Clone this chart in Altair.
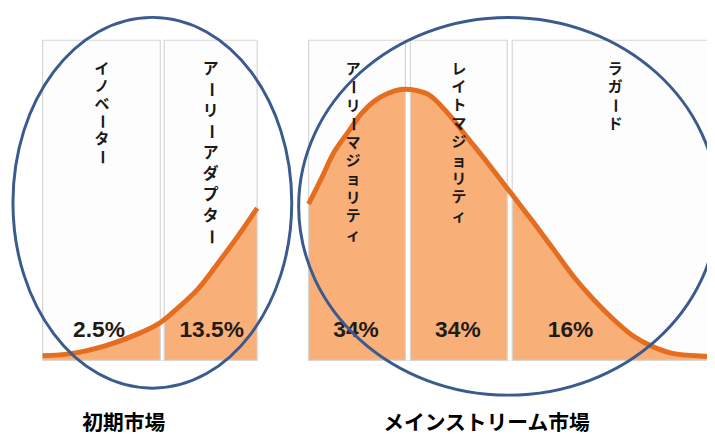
import altair as alt
import pandas as pd

# ---- data (x: position in sigma-like units, y: curve height, peak = 100)
left_x = [-3.70, -3.40, -3.06, -2.73, -2.53, -2.40, -2.13, -1.90, -1.73, -1.53]
left_y = [1.7, 2.6, 5.5, 9.9, 13.5, 17.2, 26.3, 37.2, 45.6, 56.2]
right_x = [-1.01, -0.88, -0.75, -0.61, -0.48, -0.35, -0.21, -0.08, 0.02, 0.20, 0.40, 0.60, 0.80, 1.00,
           1.07, 1.27, 1.47, 1.67, 1.87, 2.07, 2.27, 2.47, 2.67, 3.02, 3.14]
right_y = [57.7, 67.2, 77.0, 84.3, 90.9, 95.6, 98.5, 100.0, 100.0, 98.2, 91.2, 82.1, 73.0, 63.5,
           60.2, 50.7, 40.9, 31.0, 22.6, 15.3, 9.1, 5.1, 2.6, 1.5, 1.3]

panel_names = ["イノベーター", "アーリーアダプター", "アーリーマジョリティ", "レイトマジョリティ", "ラガード"]
panel_share = ["2.5%", "13.5%", "34%", "34%", "16%"]
panel_group = ["early", "early", "main", "main", "main"]
panel_x1 = [-3.70, -2.47, -1.01, 0.02, 1.05]
panel_x2 = [-2.51, -1.53, -0.03, 1.00, 3.14]
panel_top = 118.2

label_x = [-3.10, -2.00, -0.56, 0.51, 2.09]
label_step = [6.53, 7.76, 6.82, 6.79, 6.82]
label_size = [15, 16, 15, 15, 15]
label_top = 107.7
pct_x = [-3.13, -1.99, -0.53, 0.50, 1.64]
pct_y = 11.3

market_names = ["初期市場", "メインストリーム市場"]
market_x = [-2.88, 0.79]
market_y = -23.4

ellipse_x = [-2.59, 1.01]
ellipse_y = [58.2, 56.9]
ellipse_path = ["M -0.752 0 A 0.752 1 0 1 1 0.752 0 A 0.752 1 0 1 1 -0.752 0 Z",
                "M -1 0 A 1 0.901 0 1 1 1 0 A 1 0.901 0 1 1 -1 0 Z"]
ellipse_size = [140625, 179776]

# ---- tables
curve = pd.DataFrame({
    "x": left_x + right_x,
    "y": left_y + right_y,
    "group": ["early"] * len(left_x) + ["main"] * len(right_x),
})
panels = pd.DataFrame({"x1": panel_x1, "x2": panel_x2, "top": panel_top, "base": 0.0})
gaps = pd.DataFrame([
    {"x1": panel_x2[i], "x2": panel_x1[i + 1], "top": panel_top, "base": 0.0}
    for i in range(len(panel_names) - 1) if panel_group[i] == panel_group[i + 1]
])
# vertical writing: one upright character per row, the long-vowel mark turned upright
chars = pd.DataFrame([
    {"ch": ch, "x": lx, "y": label_top - i * st,
     "angle": 90 if ch == "ー" else 0, "fs": fs}
    for name, lx, st, fs in zip(panel_names, label_x, label_step, label_size)
    for i, ch in enumerate(name)
])
pcts = pd.DataFrame({"t": panel_share, "x": pct_x, "y": pct_y})
markets = pd.DataFrame({"t": market_names, "x": market_x, "y": market_y})
ellipses = pd.DataFrame({"x": ellipse_x, "y": ellipse_y, "path": ellipse_path, "size": ellipse_size})

xs = alt.Scale(domain=[-4.05, 3.02], nice=False, zero=False)
ys = alt.Scale(domain=[-27.0, 129.2], nice=False, zero=False)

def X(f="x"):
    return alt.X(f"{f}:Q", scale=xs, axis=None)

def Y(f="y"):
    return alt.Y(f"{f}:Q", scale=ys, axis=None, stack=None)

bg = alt.Chart(panels).mark_rect(fill="#FDFDFD").encode(
    x=X("x1"), x2="x2:Q", y=Y("base"), y2="top:Q")
area = alt.Chart(curve).mark_area(color="#F8AF78", interpolate="catmull-rom").encode(
    x=X(), y=Y(), detail="group:N")
gap = alt.Chart(gaps).mark_rect(fill="#FFFFFF").encode(
    x=X("x1"), x2="x2:Q", y=Y("base"), y2="top:Q")
outline = alt.Chart(panels).mark_rect(fillOpacity=0, stroke="#D6D6D6", strokeWidth=1.2).encode(
    x=X("x1"), x2="x2:Q", y=Y("base"), y2="top:Q")
line = alt.Chart(curve).mark_line(color="#E46D20", strokeWidth=5, interpolate="catmull-rom").encode(
    x=X(), y=Y(), detail="group:N")
labels = alt.Chart(chars).mark_text(
    font="Noto Sans CJK JP", fontWeight="bold", color="#1A1A1A",
    align="center", baseline="middle"
).encode(x=X(), y=Y(), text="ch:N",
         angle=alt.Angle("angle:Q", scale=None),
         size=alt.Size("fs:Q", scale=None))
pct = alt.Chart(pcts).mark_text(
    font="Liberation Sans", fontWeight="bold", fontSize=23, color="#231A17",
    align="center", baseline="middle").encode(x=X(), y=Y(), text="t:N")
ell = alt.Chart(ellipses).mark_point(
    filled=False, stroke="#3B5B8E", strokeWidth=3, opacity=1).encode(
    x=X(), y=Y(), shape=alt.Shape("path:N", scale=None), size=alt.Size("size:Q", scale=None))
mk = alt.Chart(markets).mark_text(
    font="Noto Sans CJK JP", fontWeight="bold", fontSize=21, color="#000000",
    align="center", baseline="middle").encode(x=X(), y=Y(), text="t:N")

chart = alt.layer(bg, area, gap, outline, line, labels, pct, ell, mk).properties(
    width=707, height=428, padding=0, autosize="none"
).configure_view(stroke=None)

chart.save("out.html", embed_options={"renderer": "svg", "actions": False})
